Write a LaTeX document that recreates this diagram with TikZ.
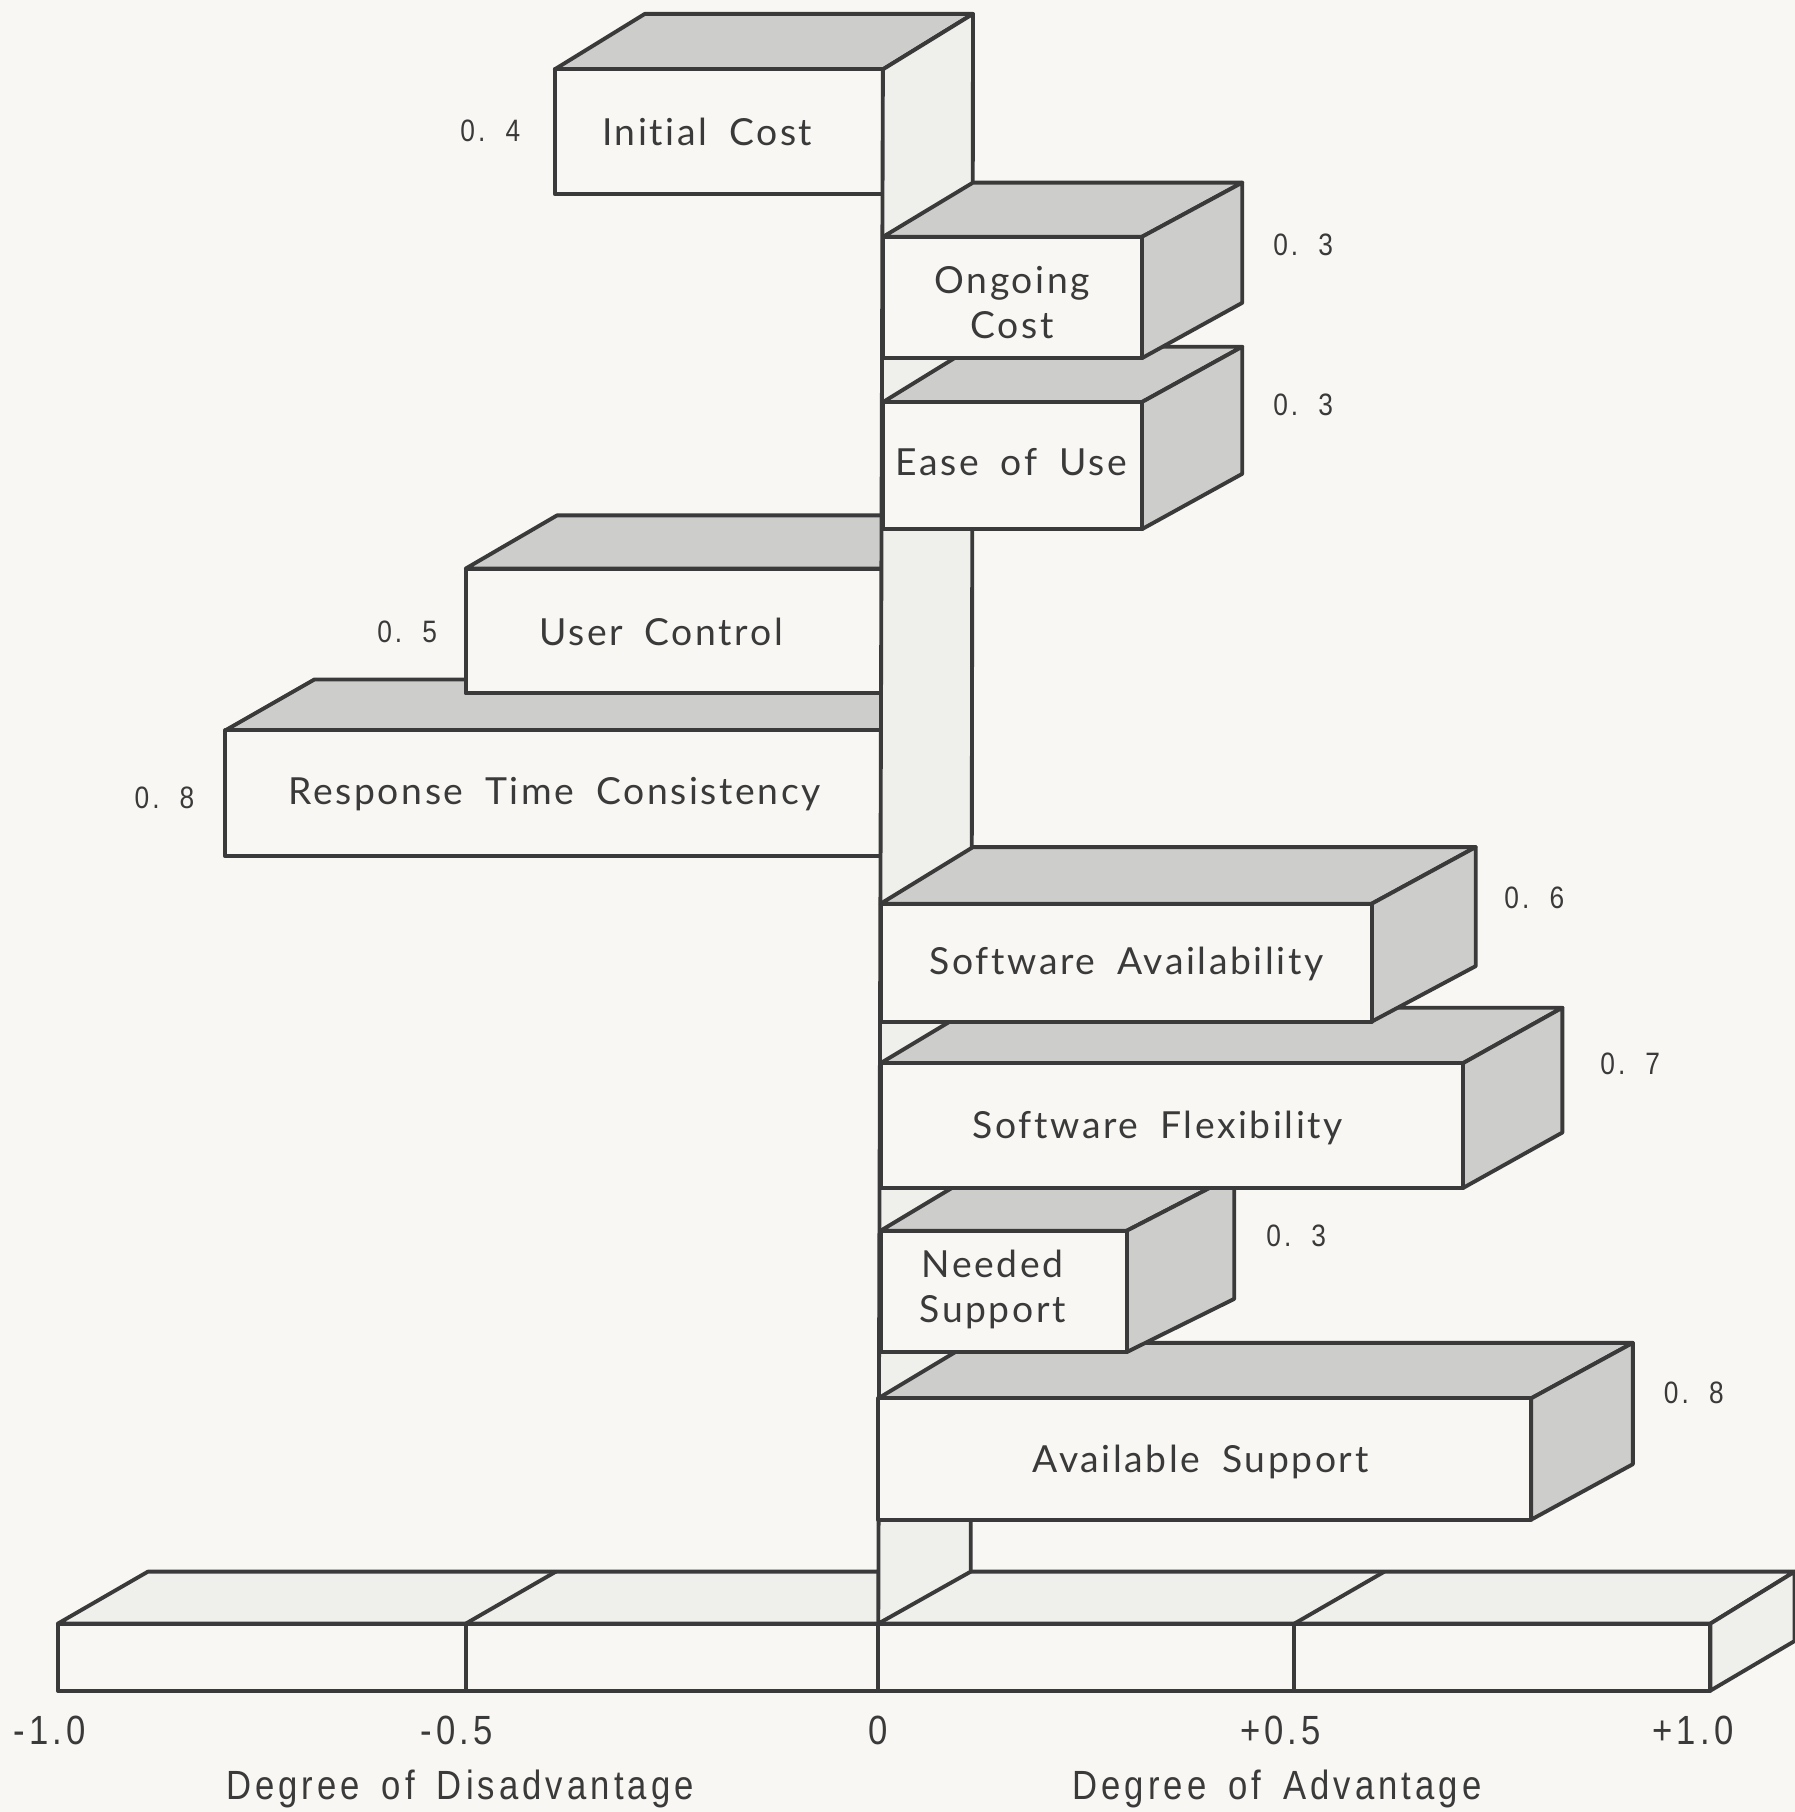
\documentclass[tikz,border=0pt]{standalone}
\usepackage{fontspec}
\usepackage{tikz}
\usetikzlibrary{shapes}
\newfontfamily\barfont[LetterSpace=7,WordSpace=1.8,Ligatures=NoCommon]{Lato}
\newfontfamily\numfont[FakeStretch=0.85,LetterSpace=10,WordSpace=1.6]{Liberation Sans}
\definecolor{ink}{RGB}{58,58,58}
\definecolor{paper}{RGB}{248,247,243}
\definecolor{dots}{RGB}{205,205,203}
\definecolor{pale}{RGB}{239,239,236}

\begin{document}
\begin{tikzpicture}[x=0.011558cm,y=-0.011558cm,line width=1.1pt,line join=round,draw=ink,
  face/.style={draw=ink,fill=paper},
  shade/.style={draw=ink,fill=dots},
  wall/.style={draw=ink,fill=pale},
  barlabel/.style={ink,align=center,font=\barfont\fontsize{10.6}{12.8}\selectfont},
  value/.style={ink,font=\numfont\fontsize{8.8}{10}\selectfont},
  axislabel/.style={ink,font=\numfont\fontsize{11.6}{13}\selectfont}]
\useasboundingbox (0,0) rectangle (1553,1568);
\fill[paper] (0,0) rectangle (1553,1568);
%Scale Base
\filldraw[wall] (50,1405) -- (128,1360) -- (1553,1360) -- (1480,1405) -- cycle;
\filldraw[face] (50,1405) rectangle (1480,1463);
\filldraw[wall] (1480,1405) -- (1553,1360) -- (1553,1420) -- (1480,1463) -- cycle;
\draw[ink] (403,1405) -- (403,1463);
\draw[ink] (760,1405) -- (760,1463);
\draw[ink] (1120,1405) -- (1120,1463);
\draw[ink] (403,1405) -- (481,1360);
\draw[ink] (1120,1405) -- (1198,1360);
%Bars to the Left
\filldraw[shade] (195,632) -- (272,588) -- (764,588) -- (764,632) -- cycle;
\filldraw[face] (195,632) rectangle (764,741);
\filldraw[shade] (403,492) -- (482,446) -- (764,446) -- (764,492) -- cycle;
\filldraw[face] (403,492) rectangle (764,600);
\filldraw[shade] (480,60) -- (558,12) -- (842,12) -- (764,60) -- cycle;
\filldraw[face] (480,60) rectangle (764,168);
%Zero Wall
\filldraw[wall] (764,60) -- (842,12) -- (840,1360) -- (760,1405) -- cycle;
%Bars to the Right
\filldraw[shade] (760,1210) -- (840,1162) -- (1413,1162) -- (1325,1210) -- cycle;
\filldraw[shade] (1325,1210) -- (1413,1162) -- (1413,1267) -- (1325,1315) -- cycle;
\filldraw[face] (760,1210) rectangle (1325,1315);
\filldraw[shade] (762,1065) -- (842,1017) -- (1068,1017) -- (975,1065) -- cycle;
\filldraw[shade] (975,1065) -- (1068,1017) -- (1068,1124) -- (975,1170) -- cycle;
\filldraw[face] (762,1065) rectangle (975,1170);
\filldraw[shade] (762,920) -- (842,872) -- (1352,872) -- (1266,920) -- cycle;
\filldraw[shade] (1266,920) -- (1352,872) -- (1352,980) -- (1266,1028) -- cycle;
\filldraw[face] (762,920) rectangle (1266,1028);
\filldraw[shade] (762,782) -- (842,733) -- (1277,733) -- (1187,782) -- cycle;
\filldraw[shade] (1187,782) -- (1277,733) -- (1277,836) -- (1187,884) -- cycle;
\filldraw[face] (762,782) rectangle (1187,884);
\filldraw[shade] (764,348) -- (842,300) -- (1075,300) -- (988,348) -- cycle;
\filldraw[shade] (988,348) -- (1075,300) -- (1075,410) -- (988,458) -- cycle;
\filldraw[face] (764,348) rectangle (988,458);
\filldraw[shade] (764,205) -- (842,158) -- (1075,158) -- (988,205) -- cycle;
\filldraw[shade] (988,205) -- (1075,158) -- (1075,262) -- (988,310) -- cycle;
\filldraw[face] (764,205) rectangle (988,310);
%Bar Labels
\node at (612,114) [barlabel] (InitialCost) {Initial Cost};
\node at (876,262) [barlabel] (OngoingCost) {Ongoing\\Cost};
\node at (875,400) [barlabel] (EaseOfUse) {Ease of Use};
\node at (572,547) [barlabel] (UserControl) {User Control};
\node at (480,687) [barlabel] (ResponseTime) {Response Time Consistency};
\node at (975,834) [barlabel] (SoftwareAvail) {Software Availability};
\node at (1002,976) [barlabel] (SoftwareFlex) {Software Flexibility};
\node at (859,1116) [barlabel] (NeededSupport) {Needed\\Support};
\node at (1039,1265) [barlabel] (AvailSupport) {Available Support};
%Values
\node [value,left] at (462,113) (ValInitial) {0. 4};
\node [value,right] at (1090,212) (ValOngoing) {0. 3};
\node [value,right] at (1090,350) (ValEase) {0. 3};
\node [value,left] at (390,547) (ValControl) {0. 5};
\node [value,left] at (180,690) (ValResponse) {0. 8};
\node [value,right] at (1290,777) (ValAvail) {0. 6};
\node [value,right] at (1373,921) (ValFlex) {0. 7};
\node [value,right] at (1084,1069) (ValNeeded) {0. 3};
\node [value,right] at (1428,1205) (ValSupport) {0. 8};
%Scale Labels
\node at (43,1497) [axislabel] (TickA) {-1.0};
\node at (395,1497) [axislabel] (TickB) {-0.5};
\node at (760,1497) [axislabel] (TickC) {0};
\node at (1108,1497) [axislabel] (TickD) {+0.5};
\node at (1465,1497) [axislabel] (TickE) {+1.0};
\node at (398,1548) [axislabel] (Disadvantage) {Degree of Disadvantage};
\node at (1105,1548) [axislabel] (Advantage) {Degree of Advantage};
\end{tikzpicture}
\end{document}
